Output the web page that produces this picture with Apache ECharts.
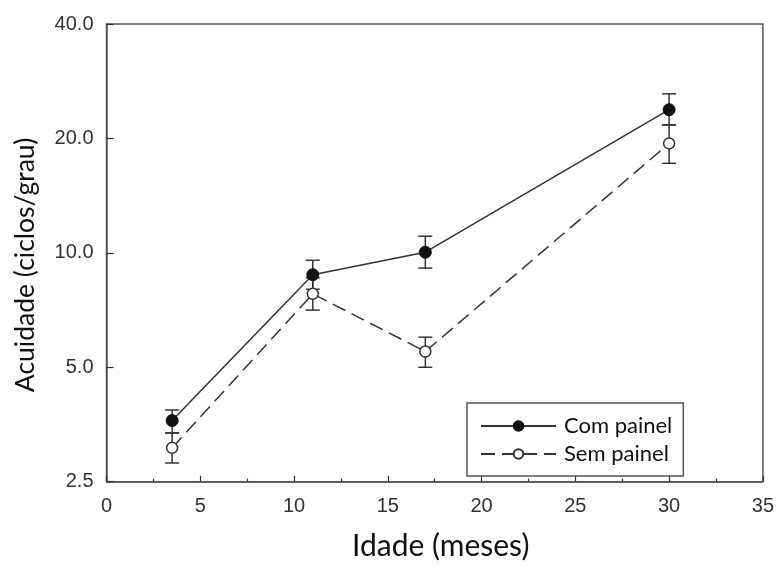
<!DOCTYPE html>
<html>
<head>
<meta charset="utf-8">
<script src="https://cdn.jsdelivr.net/npm/echarts@6/dist/echarts.min.js"></script>
<style>html,body{margin:0;padding:0;background:#fff;}#c{width:777px;height:567px;}</style>
</head>
<body>
<div id="c"></div>
<script>
// ---- data ----
const ages = [3.5, 11, 17, 30];
const comMean = [3.62, 8.76, 10.04, 23.8];
const comHigh = [3.86, 9.56, 11.06, 26.2];
const comLow  = [3.36, 8.02, 9.12, 21.7];
const semMean = [3.07, 7.80, 5.50, 19.4];
const semHigh = [3.36, 8.60, 6.00, 21.7];
const semLow  = [2.80, 7.07, 5.00, 17.2];
const yTickValues = [2.5, 5.0, 10.0, 20.0, 40.0];
const seriesNames = ['Com painel', 'Sem painel'];

// log2 scale relative to base tick 2.5
const base = yTickValues[0];
const tr = v => Math.log2(v / base);

const chart = echarts.init(document.getElementById('c'), null, {renderer: 'canvas'});
const ink = '#333333';
const frame = '#555555';

function errSeries(mean, hi, lo, name) {
  return {
    type: 'custom',
    name: name + ' err',
    z: 1,
    silent: true,
    data: ages.map((a, i) => [a, tr(lo[i]), tr(hi[i])]),
    renderItem: function (params, api) {
      const x = api.value(0);
      const p1 = api.coord([x, api.value(1)]);
      const p2 = api.coord([x, api.value(2)]);
      const w = 7;
      const st = {stroke: ink, lineWidth: 1.5};
      return {
        type: 'group',
        children: [
          {type: 'line', shape: {x1: p1[0], y1: p1[1], x2: p2[0], y2: p2[1]}, style: st},
          {type: 'line', shape: {x1: p1[0] - w, y1: p1[1], x2: p1[0] + w, y2: p1[1]}, style: st},
          {type: 'line', shape: {x1: p2[0] - w, y1: p2[1], x2: p2[0] + w, y2: p2[1]}, style: st}
        ]
      };
    }
  };
}

const option = {
  animation: false,
  backgroundColor: '#ffffff',
  grid: {
    left: 106.5, right: 12, top: 24, bottom: 85.3,
    show: true, borderColor: frame, borderWidth: 1.5, backgroundColor: 'transparent'
  },
  xAxis: {
    type: 'value', min: 0, max: 35, interval: 5,
    name: 'Idade (meses)', nameLocation: 'middle', nameGap: 50,
    nameTextStyle: {fontFamily: 'Lato', fontSize: 30, color: '#111', padding: [0, 0, 0, 12]},
    axisLine: {show: true, lineStyle: {color: frame, width: 1.5}},
    axisTick: {show: true, inside: true, length: 6, lineStyle: {color: ink, width: 1.2}},
    minorTick: {show: true, splitNumber: 2, length: 3, lineStyle: {color: ink, width: 1.2}},
    splitLine: {show: false},
    axisLabel: {fontFamily: 'Liberation Sans', fontSize: 20, color: '#333', margin: 15}
  },
  yAxis: {
    type: 'value', min: 0, max: 4, interval: 1,
    name: 'Acuidade (ciclos/grau)', nameLocation: 'middle', nameGap: 68,
    nameTextStyle: {fontFamily: 'Lato', fontSize: 26.5, color: '#111', padding: [0, 24, 0, 0]},
    axisLine: {show: true, lineStyle: {color: frame, width: 1.5}},
    axisTick: {show: true, inside: true, length: 7, lineStyle: {color: ink, width: 1.2}},
    splitLine: {show: false},
    axisLabel: {
      fontFamily: 'Liberation Sans', fontSize: 20, color: '#333', margin: 13,
      formatter: v => (base * Math.pow(2, v)).toFixed(1)
    }
  },
  legend: {
    orient: 'vertical', left: 467, top: 403,
    data: seriesNames,
    borderColor: frame, borderWidth: 1.5, borderRadius: 0,
    padding: [12, 11, 11, 13],
    itemWidth: 75, itemHeight: 12, itemGap: 6,
    textStyle: {fontFamily: 'Lato', fontSize: 22, color: '#111', padding: [0, 0, 0, 3]}
  },
  series: [
    errSeries(comMean, comHigh, comLow, seriesNames[0]),
    errSeries(semMean, semHigh, semLow, seriesNames[1]),
    {
      name: seriesNames[0], type: 'line', z: 3,
      data: ages.map((a, i) => [a, tr(comMean[i])]),
      symbol: 'circle', symbolSize: 12,
      itemStyle: {color: '#111', borderColor: '#111', borderWidth: 1},
      lineStyle: {color: ink, width: 1.5, type: 'solid'}
    },
    {
      name: seriesNames[1], type: 'line', z: 3,
      data: ages.map((a, i) => [a, tr(semMean[i])]),
      symbol: 'circle', symbolSize: 11,
      itemStyle: {color: '#ffffff', borderColor: ink, borderWidth: 1.5},
      lineStyle: {color: ink, width: 1.5, type: [14, 7]}
    }
  ]
};
chart.setOption(option);
</script>
</body>
</html>
